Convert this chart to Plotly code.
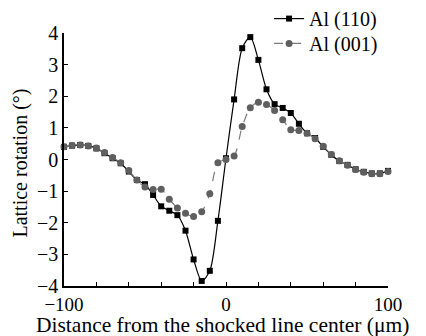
import plotly.graph_objects as go

distance = [-100, -95, -90, -85, -80, -75, -70, -65, -60, -55, -50, -45, -40, -35, -30,
            -25, -20, -15, -10, -5, 0, 5, 10, 15, 20, 25, 30, 35, 40, 45, 50, 55, 60,
            65, 70, 75, 80, 85, 90, 95, 100]

al110 = [0.40, 0.44, 0.46, 0.43, 0.35, 0.20, 0.04, -0.12, -0.38, -0.65, -0.78, -1.12,
         -1.48, -1.62, -1.76, -2.25, -3.16, -3.84, -3.52, -1.94, 0.04, 1.90, 3.52, 3.87,
         3.15, 2.22, 1.75, 1.63, 1.47, 1.13, 0.83, 0.68, 0.40, 0.15, -0.05, -0.17, -0.31,
         -0.39, -0.44, -0.44, -0.36]

al001 = [0.40, 0.44, 0.46, 0.43, 0.36, 0.22, 0.06, -0.10, -0.35, -0.65, -0.87, -0.95,
         -0.94, -1.26, -1.53, -1.70, -1.80, -1.65, -1.08, -0.10, 0.00, 0.11, 1.04, 1.64,
         1.81, 1.74, 1.55, 1.26, 0.94, 0.92, 0.83, 0.66, 0.42, 0.16, -0.04, -0.18, -0.32,
         -0.40, -0.45, -0.45, -0.38]

x_tickvals = [-100, -80, -60, -40, -20, 0, 20, 40, 60, 80, 100]
x_ticktext = ["\u2212100", "", "", "", "", "0", "", "", "", "", "100"]
y_tickvals = [-4, -3, -2, -1, 0, 1, 2, 3, 4]

x_title = "Distance from the shocked line center (\u03bcm)"
y_title = "Lattice rotation (\u00b0)"

FONT = "Liberation Serif, Times New Roman, serif"

fig = go.Figure()
fig.add_trace(go.Scatter(
    x=distance, y=al110, name="Al (110)", mode="lines+markers",
    line=dict(color="black", width=1.2, shape="spline", smoothing=0.8),
    marker=dict(symbol="square", size=6, color="black"),
    cliponaxis=False, legend="legend",
))
fig.add_trace(go.Scatter(
    x=distance, y=al001, name="Al (001)", mode="lines+markers",
    line=dict(color="#7a7a7a", width=1.2, dash="dash", shape="spline", smoothing=0.8),
    marker=dict(symbol="circle", size=7, color="#5f5f5f"),
    cliponaxis=False, legend="legend2",
))

legend_style = dict(xanchor="left", yanchor="top", bgcolor="rgba(0,0,0,0)",
                    font=dict(size=20), itemwidth=30)

# page body has an 8px margin; figure is sized so the plot lands where the reference has it
fig.update_layout(
    width=418, height=328,
    margin=dict(l=56, r=38, t=25, b=50, autoexpand=False),
    paper_bgcolor="white", plot_bgcolor="white",
    font=dict(family=FONT, size=20, color="black"),
    showlegend=True,
    legend=dict(x=0.633, y=1.134, **legend_style),
    legend2=dict(x=0.633, y=1.036, **legend_style),
    xaxis=dict(range=[-100, 100], tickvals=x_tickvals, ticktext=x_ticktext,
               ticks="inside", ticklen=4, tickwidth=1, tickcolor="black",
               tickfont=dict(size=19),
               showline=True, linecolor="black", linewidth=1.5, mirror=False,
               showgrid=False, zeroline=False, automargin=False),
    yaxis=dict(range=[-4, 4], tickvals=y_tickvals,
               ticks="inside", ticklen=4, tickwidth=1, tickcolor="black",
               showline=True, linecolor="black", linewidth=1.5, mirror=False,
               showgrid=False, zeroline=False, automargin=False),
    annotations=[
        dict(text=x_title, xref="paper", yref="paper", x=0.49, y=0,
             xanchor="center", yanchor="middle", yshift=-38.5, showarrow=False,
             font=dict(size=21.5)),
        dict(text=y_title, xref="paper", yref="paper", x=0, y=0.484,
             xanchor="center", yanchor="middle", xshift=-43, textangle=-90,
             showarrow=False, font=dict(size=20)),
    ],
)

fig.write_html("out.html")
